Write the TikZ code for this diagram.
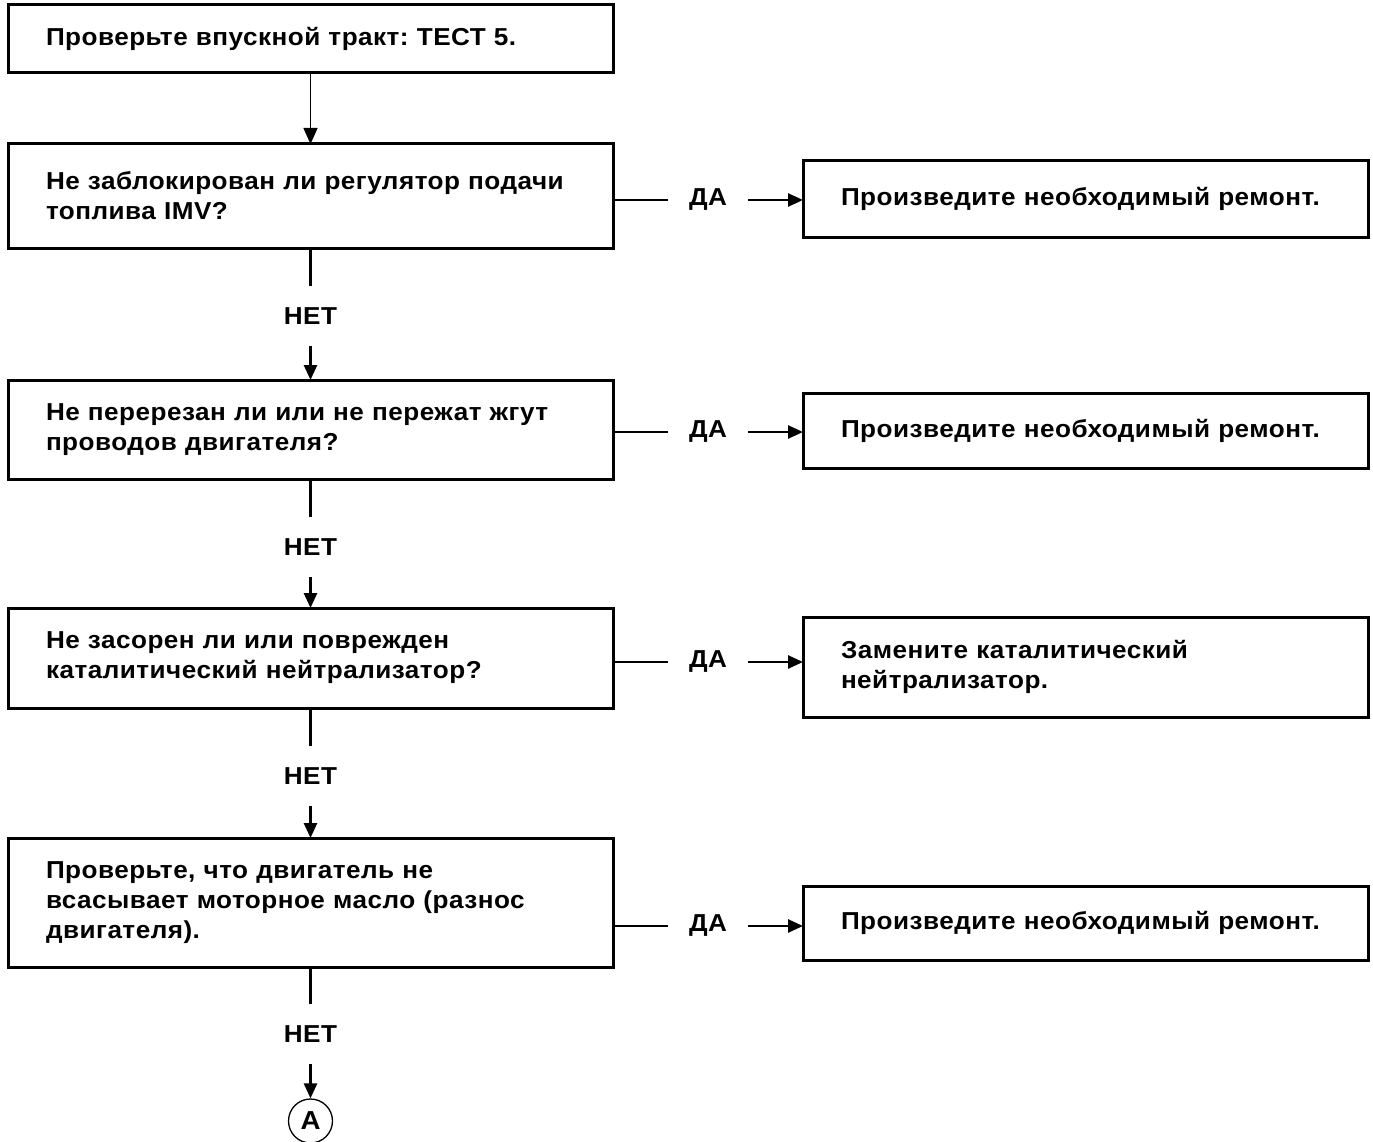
\documentclass[tikz,border=0pt]{standalone}
\usepackage{fontspec}
\setmainfont{Liberation Sans}[FakeStretch=1.065,LetterSpace=2]
\usetikzlibrary{arrows.meta}
\begin{document}
\frenchspacing
\begin{tikzpicture}[x=1pt,y=-1pt,
  font=\bfseries\fontsize{24.5}{30}\selectfont,
  box/.style={draw,line width=3pt,rectangle,align=left,inner xsep=38pt,inner ysep=0pt,
    text width=#1-76pt,minimum width=#1,anchor=north west,outer sep=0pt},
  qbox/.style={box=605pt},
  abox/.style={box=565pt},
  lab/.style={inner sep=0pt,minimum height=60pt},
  yes/.style={inner sep=0pt,minimum width=80pt},
  link/.style={line width=2.6pt},
  flow/.style={line width=2.6pt,-{Triangle[length=15pt,width=13pt]}},
]
\useasboundingbox (0,0) rectangle (1373,1142);

% question column
\node[qbox,minimum height=68pt]  (q1) at (8,5)   {Проверьте впускной тракт: ТЕСТ 5.};
\node[qbox,minimum height=104pt] (q2) at (8,144) {Не заблокирован ли регулятор подачи\\топлива IMV?};
\node[qbox,minimum height=99pt]  (q3) at (8,380) {Не перерезан ли или не пережат жгут\\проводов двигателя?};
\node[qbox,minimum height=100pt] (q4) at (8,608) {Не засорен ли или поврежден\\каталитический нейтрализатор?};
\node[qbox,minimum height=129pt] (q5) at (8,838) {Проверьте, что двигатель не\\всасывает моторное масло (разнос\\двигателя).};

% answer column
\node[abox,minimum height=76pt]  (r2) at (803,161) {Произведите необходимый ремонт.};
\node[abox,minimum height=75pt]  (r3) at (803,393) {Произведите необходимый ремонт.};
\node[abox,minimum height=100pt] (r4) at (803,617) {Замените каталитический\\нейтрализатор.};
\node[abox,minimum height=74pt]  (r5) at (803,886) {Произведите необходимый ремонт.};

% yes labels
\node[yes] (y2) at (708,200) {ДА};
\node[yes] (y3) at (708,432) {ДА};
\node[yes] (y4) at (708,662) {ДА};
\node[yes] (y5) at (708,926) {ДА};

% no labels, centred under the question column
\node[lab] (n2) at (q2.south |- 0,316) {НЕТ};
\node[lab] (n3) at (q3.south |- 0,547) {НЕТ};
\node[lab] (n4) at (q4.south |- 0,776) {НЕТ};
\node[lab] (n5) at (q5.south |- 0,1034) {НЕТ};

% off-page connector
\node[draw,circle,line width=1.3pt,minimum size=44pt,inner sep=0pt,font=\bfseries\fontsize{26}{26}\selectfont] (A) at (q5.south |- 0,1121) {A};

% connectors
\draw[line width=1.3pt,-{Triangle[length=16pt,width=14pt]}] (q1) -- (q2);
\foreach \i/\j in {2/3,3/4,4/5}{
  \draw[link] (q\i.south) -- (n\i.north);
  \draw[flow] (n\i.south) -- (q\j.north);
}
\draw[link] (q5.south) -- (n5.north);
\draw[flow] (n5.south) -- (A.north);
\foreach \i in {2,3,4,5}{
  \draw[link] (q\i.east |- y\i) -- (y\i.west);
  \draw[flow] (y\i.east) -- (r\i.west |- y\i);
}
\end{tikzpicture}
\end{document}
